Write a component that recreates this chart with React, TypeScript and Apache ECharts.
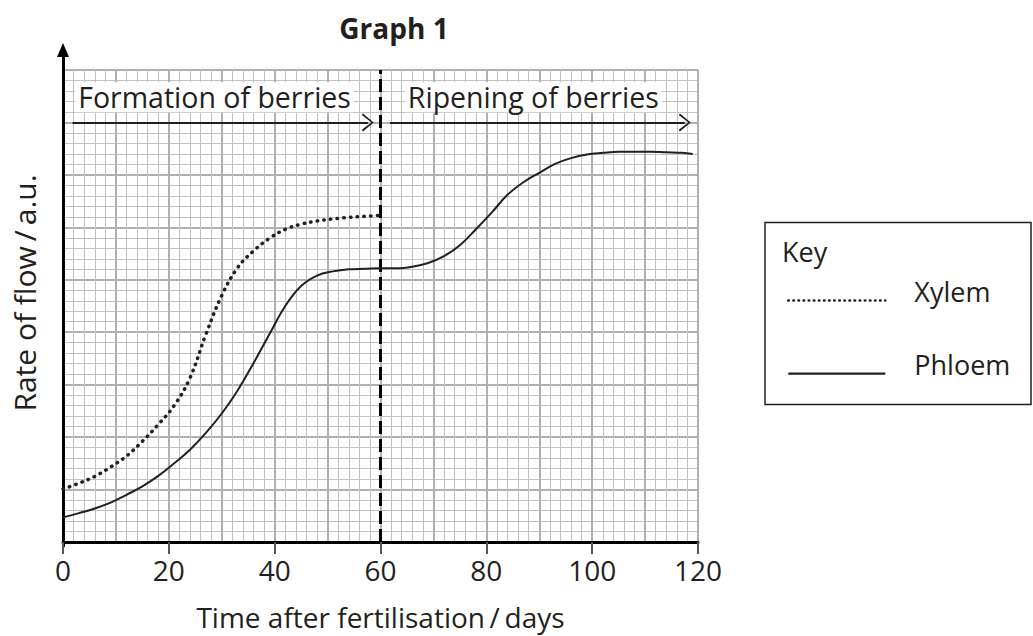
import React, { useEffect, useRef } from "react";
import * as echarts from "echarts";

const xTickLabels = [0, 20, 40, 60, 80, 100, 120];
const xylemDays = [0, 3, 6, 9, 12, 15, 18, 21, 24, 27, 30, 33, 36, 39, 42, 45, 48, 51, 54, 57, 60];
const xylemRate = [10.1, 11.2, 12.5, 14.3, 16.4, 19.2, 22.4, 26.0, 31.3, 39.6, 47.0, 52.3, 55.5, 57.9, 59.6, 60.6, 61.2, 61.6, 61.9, 62.1, 62.3];
const phloemDays = [0, 3, 6, 9, 12, 15, 18, 21, 24, 27, 30, 33, 36, 39, 42, 45, 48, 51, 54, 57, 60, 63, 66, 69, 72, 75, 78, 81, 84, 87, 90, 93, 96, 99, 102, 105, 108, 111, 114, 117, 119];
const phloemRate = [4.7, 5.5, 6.4, 7.5, 9.0, 10.6, 12.6, 15.0, 17.6, 20.8, 24.5, 28.9, 34.1, 39.6, 45.0, 48.8, 50.8, 51.6, 52.0, 52.1, 52.2, 52.2, 52.5, 53.2, 54.5, 56.6, 59.6, 62.8, 66.2, 68.6, 70.4, 72.1, 73.2, 73.9, 74.2, 74.4, 74.4, 74.4, 74.3, 74.2, 74.0];

const phaseLabels = ["Formation of berries", "Ripening of berries"];
const phaseStart = [1.8, 61.8];
const phaseEnd = [57.6, 117.5];
const phaseLabelX = [2.3, 64.6];
const arrowLevel = 80;
const labelLevel = 84.8;
const boundaryDay = 60;

const INK = "#231f20";
const FONT = "Open Sans";
const CHEVRON = "path://M0,12 L9,0 L18,12 L16.4,13.2 L9,2.6 L1.6,13.2 Z";

export default function App() {
  const ref = useRef<HTMLDivElement>(null);
  useEffect(() => {
    if (!ref.current) return;
    const chart = echarts.init(ref.current, null, { renderer: "svg" });
    const gridMajor = { color: "#b0b0b0", width: 2 };
    const gridMinor = { color: "#c2c2c2", width: 1 };
    const option: any = {
      animation: false,
      backgroundColor: "#ffffff",
      textStyle: { fontFamily: FONT, color: INK },
      title: {
        text: "Graph 1",
        left: 389,
        top: 9,
        textAlign: "center",
        textStyle: { fontFamily: FONT, fontWeight: "bold", fontSize: 28, color: INK },
      },
      grid: [
        { left: 63, right: 335, top: 70, bottom: 90 },
        { left: 63, right: 335, top: 50, bottom: 90 },
      ],
      xAxis: [
        {
          type: "value", gridIndex: 0, min: 0, max: 120, interval: 10, position: "bottom",
          axisLine: { show: false }, axisTick: { show: false }, axisLabel: { show: false },
          splitLine: { show: true, lineStyle: gridMajor },
          minorTick: { show: false, splitNumber: 5 },
          minorSplitLine: { show: true, lineStyle: gridMinor },
        },
        {
          type: "value", gridIndex: 0, min: 0, max: 120, interval: 20, position: "bottom",
          axisLine: { show: true, onZero: false, lineStyle: { color: "#000", width: 3 } },
          axisTick: { show: true, length: 12, lineStyle: { color: "#555", width: 2 } },
          axisLabel: { show: true, fontSize: 28, color: INK, fontFamily: FONT, margin: 14,
            formatter: (v: number) => (xTickLabels.includes(v) ? String(v) : "") },
          splitLine: { show: false },
          name: "Time after fertilisation\u2009/\u2009days",
          nameLocation: "middle",
          nameGap: 61,
          nameTextStyle: { fontSize: 28, color: INK, fontFamily: FONT },
        },
        { type: "value", gridIndex: 1, min: 0, max: 1, show: false },
      ],
      yAxis: [
        {
          type: "value", gridIndex: 0, min: 0, max: 90, interval: 10,
          axisLine: { show: false }, axisTick: { show: false }, axisLabel: { show: false },
          splitLine: { show: true, lineStyle: gridMajor },
          minorTick: { show: false, splitNumber: 5 },
          minorSplitLine: { show: true, lineStyle: gridMinor },
          name: "Rate of flow\u2009/\u2009a.u.",
          nameLocation: "middle",
          nameRotate: 90,
          nameGap: 24,
          nameTextStyle: { fontSize: 30, color: INK, fontFamily: FONT, padding: [0, 0, 0, 26] },
        },
        {
          type: "value", gridIndex: 1, min: 0, max: 1,
          axisLine: { show: true, onZero: false, lineStyle: { color: "#000", width: 3 },
            symbol: ["none", "triangle"], symbolSize: [12, 14], symbolOffset: [0, 0] },
          axisTick: { show: false }, axisLabel: { show: false }, splitLine: { show: false },
        },
      ],
      legend: {
        orient: "vertical",
        left: 782,
        top: 273,
        itemWidth: 97,
        itemHeight: 44,
        itemGap: 33,
        selectedMode: false,
        itemStyle: { opacity: 0 },
        formatter: (name: string) => `{n|${name}}`,
        textStyle: {
          fontSize: 27, color: INK, fontFamily: FONT,
          rich: { n: { fontSize: 27, color: INK, fontFamily: FONT, padding: [0, 0, 18, 24] } },
        },
        data: [
          { name: "Xylem", itemStyle: { opacity: 0 }, lineStyle: { width: 2.6, type: [0.5, 4.6], cap: "round", color: INK } },
          { name: "Phloem", itemStyle: { opacity: 0 }, lineStyle: { width: 2.2, type: "solid", color: INK } },
        ],
      },
      graphic: [
        {
          type: "rect",
          shape: { x: 765, y: 222.5, width: 266, height: 182 },
          style: { fill: "none", stroke: INK, lineWidth: 1.5 },
          silent: true,
        },
        {
          type: "text",
          x: 782,
          y: 238,
          style: { text: "Key", fontSize: 27, fontFamily: FONT, fill: INK },
          silent: true,
        },
      ],
      series: [
        {
          name: "Xylem",
          type: "line",
          xAxisIndex: 0,
          yAxisIndex: 0,
          data: xylemDays.map((d, i) => [d, xylemRate[i]]),
          smooth: 0.4,
          showSymbol: false,
          symbol: "none",
          lineStyle: { color: INK, width: 3.5, type: [0.5, 6.2], cap: "round" },
          itemStyle: { color: INK },
          z: 5,
          markLine: {
            silent: true,
            symbol: "none",
            label: { show: false },
            lineStyle: { color: "#000", width: 3, type: [13, 5] },
            data: [{ xAxis: boundaryDay }],
          },
        },
        {
          name: "Phloem",
          type: "line",
          xAxisIndex: 0,
          yAxisIndex: 0,
          data: phloemDays.map((d, i) => [d, phloemRate[i]]),
          smooth: 0.4,
          showSymbol: false,
          symbol: "none",
          lineStyle: { color: INK, width: 2, type: "solid" },
          itemStyle: { color: INK },
          z: 5,
          markLine: {
            silent: true,
            symbol: ["none", CHEVRON],
            symbolSize: [18, 12],
            label: { show: false },
            lineStyle: { color: INK, width: 2, type: "solid" },
            data: phaseLabels.map((_, i) => [
              { coord: [phaseStart[i], arrowLevel] },
              { coord: [phaseEnd[i], arrowLevel] },
            ]),
          },
          markPoint: {
            silent: true,
            symbol: "circle",
            symbolSize: 0,
            itemStyle: { color: "transparent" },
            label: {
              show: true,
              position: "right",
              distance: 0,
              fontSize: 28.5,
              fontFamily: FONT,
              color: INK,
              backgroundColor: "#ffffff",
              padding: [1, 3, 0, 3],
            },
            data: phaseLabels.map((t, i) => ({
              coord: [phaseLabelX[i], labelLevel],
              value: t,
              label: { formatter: t },
            })),
          },
        },
      ],
    };
    chart.setOption(option);
    return () => chart.dispose();
  }, []);
  return (
    <div
      ref={ref}
      style={{ position: "absolute", left: 0, top: 0, width: 1033, height: 636, background: "#fff" }}
    />
  );
}
